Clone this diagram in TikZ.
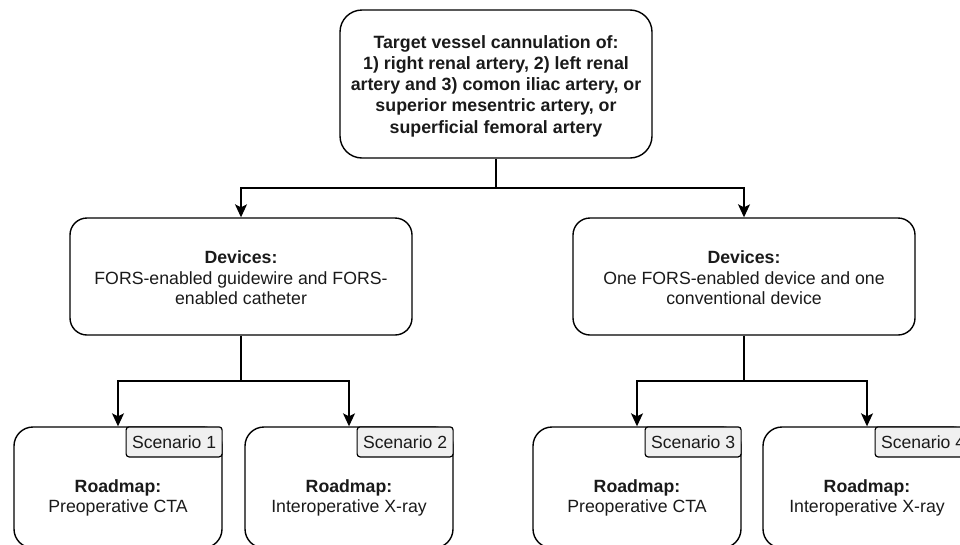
\documentclass[tikz,border=0pt]{standalone}
\usepackage{fontspec}
\setmainfont{Liberation Sans}
\usetikzlibrary{arrows.meta}
\definecolor{tagfill}{HTML}{F0F0F0}
\definecolor{ink}{HTML}{1A1A1A}
\tikzset{
  x=1pt, y=-1pt,
  base/.style={draw=black, line width=1.4pt, text=ink, align=center,
    font=\fontsize{17.6}{20.6}\selectfont, inner sep=0pt},
  topbox/.style={base, rounded corners=22pt, minimum width=312pt, minimum height=148pt},
  devbox/.style={base, rounded corners=17pt, minimum width=342pt, minimum height=117pt},
  mapbox/.style={base, rounded corners=19pt, minimum width=208pt, minimum height=121pt},
  tagbox/.style={base, line width=1.2pt, fill=tagfill, rounded corners=3pt,
    minimum width=96pt, minimum height=30pt, anchor=north east},
  txt/.style={text=ink, align=center, font=\fontsize{17.7}{20.6}\selectfont, inner sep=0pt},
  link/.style={draw=black, line width=1.4pt},
  arrow/.style={link, -{Stealth[length=13pt, width=12pt, inset=3pt]}},
}
\begin{document}
\begin{tikzpicture}
\useasboundingbox (0,0) rectangle (960,544);

% Top level: target vessels
\node[topbox] (top) at (496,84) {};
\node[txt, font=\fontsize{17.8}{21.2}\selectfont\bfseries] (toptxt) at (496,86)
  {Target vessel cannulation of:\\1) right renal artery, 2) left renal\\artery and 3) comon iliac artery, or\\superior mesentric artery, or\\superficial femoral artery};

% Device combinations
\node[devbox] (devL) at (241,276.5) {};
\node[txt] (devLtxt) at (241,278) {\textbf{Devices:}\\FORS-enabled guidewire and FORS-\\enabled catheter};
\node[devbox] (devR) at (744,276.5) {};
\node[txt] (devRtxt) at (744,278) {\textbf{Devices:}\\One FORS-enabled device and one\\conventional device};

% Roadmap scenarios
\node[mapbox] (s1) at (118,487.5) {};
\node[mapbox] (s2) at (349,487.5) {};
\node[mapbox] (s3) at (637,487.5) {};
\node[mapbox] (s4) at (867,487.5) {};

\node[tagbox] (t1) at (s1.north east) {Scenario 1};
\node[tagbox] (t2) at (s2.north east) {Scenario 2};
\node[tagbox] (t3) at (s3.north east) {Scenario 3};
\node[tagbox] (t4) at (s4.north east) {Scenario 4};

\node[txt] (r1) at (118,498) {\textbf{Roadmap:}\\Preoperative CTA};
\node[txt] (r2) at (349,498) {\textbf{Roadmap:}\\Interoperative X-ray};
\node[txt] (r3) at (637,498) {\textbf{Roadmap:}\\Preoperative CTA};
\node[txt] (r4) at (867,498) {\textbf{Roadmap:}\\Interoperative X-ray};

% Connectors
\coordinate (j0) at (496,188);
\coordinate (jL) at (241,381);
\coordinate (jR) at (744,381);
\draw[link] (top.south) -- (j0);
\draw[arrow] (j0) -| (devL.north);
\draw[arrow] (j0) -| (devR.north);
\draw[link] (devL.south) -- (jL);
\draw[arrow] (jL) -| (s1.north);
\draw[arrow] (jL) -| (s2.north);
\draw[link] (devR.south) -- (jR);
\draw[arrow] (jR) -| (s3.north);
\draw[arrow] (jR) -| (s4.north);
\end{tikzpicture}
\end{document}
